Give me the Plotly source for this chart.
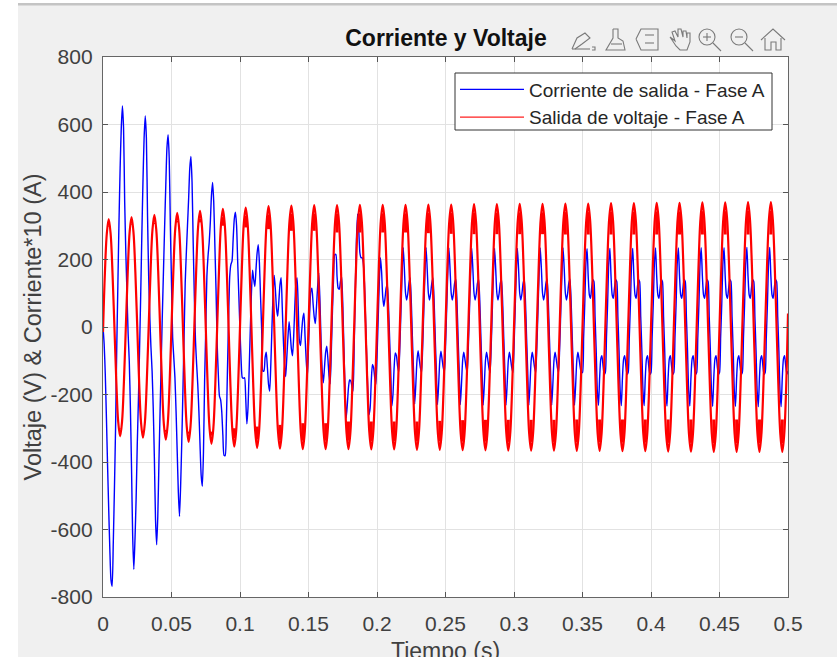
import numpy as np
import plotly.graph_objects as go

# Voltage: 12 readings per 60 Hz cycle
voltage = [
 -15,160,277,320,277,160,0,-162,-281,-324,-281,-162,
 0,163,282,326,282,163,0,-164,-284,-328,-284,-164,
 0,166,288,332,288,166,0,-167,-289,-334,-289,-167,
 0,169,293,338,293,169,0,-170,-294,-340,-294,-170,
 0,172,298,344,298,172,0,-173,-300,-346,-300,-173,
 0,175,303,350,303,175,0,-177,-307,-354,-307,-177,
 0,177,307,354,307,177,0,-179,-310,-358,-310,-179,
 0,179,310,358,310,179,0,-180,-312,-360,-312,-180,
 0,180,312,360,312,180,0,-181,-314,-362,-314,-181,
 0,180,313,361,313,180,0,-181,-314,-362,-314,-181,
 0,180,313,361,313,180,0,-181,-314,-362,-314,-181,
 0,181,314,362,314,181,0,-182,-314,-363,-314,-182,
 0,181,314,362,314,181,0,-182,-314,-363,-314,-182,
 0,181,314,362,314,181,0,-182,-315,-364,-315,-182,
 0,182,314,363,314,182,0,-182,-315,-364,-315,-182,
 0,182,314,363,314,182,0,-183,-316,-365,-316,-183,
 0,182,315,364,315,182,0,-183,-316,-365,-316,-183,
 0,182,315,364,315,182,0,-183,-317,-366,-317,-183,
 0,183,316,365,316,183,0,-183,-317,-366,-317,-183,
 0,183,316,365,316,183,0,-183,-317,-366,-317,-183,
 0,183,317,366,317,183,0,-184,-318,-367,-318,-184,
 0,183,317,366,317,183,0,-184,-318,-367,-318,-184,
 0,184,318,367,318,184,0,-184,-319,-368,-319,-184,
 0,184,318,367,318,184,0,-184,-319,-368,-319,-184,
 0,184,319,368,319,184,0,-185,-320,-369,-320,-185,
 0,184,319,368,319,184,0,-185,-320,-369,-320,-185,
 0,185,320,369,320,185,0,-185,-320,-370,-320,-185,
 0,185,320,369,320,185,0,-185,-320,-370,-320,-185,
 0,185,320,370,320,185,0,-185,-320,-370,-320,-185,
 0,185,320,370,320,185,0,-185,-320,-370,-320,-185,
 40,
]

# Current*10: 20 readings per 60 Hz cycle
current = [
 0,-50,-140,-270,-410,-540,-660,-750,-768,-640,-480,-300,-70,120,310,470,590,655,590,370,
 220,100,-20,-100,-240,-420,-620,-718,-630,-510,-350,-220,-70,90,270,430,560,625,560,330,
 150,30,-60,-130,-240,-390,-570,-645,-560,-400,-250,-100,40,170,300,420,530,570,500,300,
 130,-30,-90,-150,-250,-370,-490,-561,-470,-340,-190,-30,130,220,300,380,470,505,430,250,
 90,-40,-110,-170,-250,-350,-440,-472,-370,-160,-10,150,210,250,310,390,428,370,240,110,
 -50,-140,-205,-215,-250,-320,-380,-381,-290,-130,20,150,185,195,260,320,340,300,190,90,
 -10,-100,-150,-152,-150,-210,-287,-240,-130,-10,100,168,140,120,170,220,244,190,90,-10,
 -130,-130,-90,-75,-120,-170,-190,-110,0,100,153,110,55,32,75,125,146,60,-40,-110,
 -147,-90,-30,16,-20,-65,-85,-30,60,130,145,60,-40,-55,-15,25,41,-30,-100,-147,
 -60,40,105,115,70,30,10,60,120,160,80,-40,-130,-165,-120,-75,-57,-95,-145,-168,
 -70,50,150,215,215,150,115,112,135,150,70,-60,-180,-270,-230,-180,-157,-160,-175,-190,
 -60,110,260,335,290,220,205,205,190,130,20,-90,-190,-260,-240,-160,-111,-120,-150,-170,
 -90,20,130,205,165,90,61,85,115,126,70,-30,-130,-235,-200,-120,-77,-85,-115,-133,
 -60,50,160,235,170,100,80,100,130,145,80,-30,-130,-228,-170,-100,-70,-95,-120,-135,
 -60,50,160,235,170,100,80,100,130,145,80,-30,-130,-230,-170,-100,-72,-95,-120,-135,
 -60,50,160,234,170,100,80,100,130,142,80,-30,-130,-230,-170,-100,-75,-95,-120,-136,
 -60,50,160,233,170,100,80,100,130,142,80,-30,-130,-231,-170,-100,-75,-95,-120,-135,
 -60,50,160,233,170,100,80,100,130,142,80,-30,-130,-231,-170,-100,-75,-95,-120,-135,
 -60,50,160,233,172,100,80,100,130,142,80,-30,-130,-232,-172,-100,-75,-95,-120,-135,
 -60,50,160,234,172,100,80,100,130,142,80,-30,-130,-232,-172,-100,-75,-95,-120,-135,
 -60,50,160,234,172,100,80,100,130,142,80,-30,-130,-232,-172,-100,-75,-95,-120,-135,
 -135,-30,70,190,232,150,95,85,115,140,135,30,-70,-190,-232,-150,-95,-85,-115,-140,
 -135,-30,70,190,233,150,95,85,115,140,135,30,-70,-190,-233,-150,-95,-85,-115,-140,
 -135,-30,70,190,233,150,95,85,115,140,135,30,-70,-190,-233,-150,-95,-85,-115,-140,
 -135,-30,70,190,234,150,95,85,115,140,135,30,-70,-190,-234,-150,-95,-85,-115,-140,
 -135,-30,70,190,234,150,95,85,115,140,135,30,-70,-190,-234,-150,-95,-85,-115,-140,
 -135,-30,70,190,235,150,95,85,115,140,135,30,-70,-190,-235,-150,-95,-85,-115,-140,
 -135,-30,70,190,235,150,95,85,115,140,135,30,-70,-190,-235,-150,-95,-85,-115,-140,
 -135,-30,70,190,236,150,95,85,115,140,135,30,-70,-190,-236,-150,-95,-85,-115,-140,
 -135,-30,70,190,236,150,95,85,115,140,135,30,-70,-190,-236,-150,-95,-85,-115,-140,
 -130,
]

# Where the voltage's ripple fills the crest solid, per half cycle (lower bound as |V|)
ripple_start = [
 300, 305, 305, 310, 310, 300, 295, 290, 285, 285, 280, 280, 280, 280, 278,
 276, 275, 275, 275, 275, 274, 274, 274, 274, 274, 274, 274, 274, 274, 274,
]

x_ticks = [0, 0.05, 0.1, 0.15, 0.2, 0.25, 0.3, 0.35, 0.4, 0.45, 0.5]
x_labels = ["0", "0.05", "0.1", "0.15", "0.2", "0.25", "0.3", "0.35", "0.4", "0.45", "0.5"]
y_ticks = [-800, -600, -400, -200, 0, 200, 400, 600, 800]
y_labels = ["-800", "-600", "-400", "-200", "0", "200", "400", "600", "800"]
NAME_I = "Corriente de salida - Fase A"
NAME_V = "Salida de voltaje - Fase A"

W, H = 837, 657
L, R, T, B = 103, 788, 57, 597
FONT = "Liberation Sans"
t_voltage = np.arange(len(voltage)) / 720
t_current = np.arange(len(current)) / 1200

# Crest bands: from the ripple start up to just under each crest of the voltage list
band_x, band_y = [], []
for c, low in enumerate(ripple_start):
    for i, sign in ((12 * c + 3, 1), (12 * c + 9, -1)):
        band_x += [t_voltage[i], t_voltage[i], None]
        band_y += [sign * low, 0.93 * voltage[i], None]

fig = go.Figure()
fig.add_trace(go.Scatter(x=t_current, y=current, mode="lines", name=NAME_I,
                         line=dict(color="#0000ff", width=1.4, shape="spline", smoothing=0.6)))
fig.add_trace(go.Scatter(x=t_voltage, y=voltage, mode="lines", name=NAME_V, showlegend=False,
                         line=dict(color="#ff0000", width=2.2, shape="spline", smoothing=1.0)))
fig.add_trace(go.Scatter(x=band_x, y=band_y, mode="lines", name=NAME_V, showlegend=False, hoverinfo="skip",
                         line=dict(color="#ff0000", width=3.0)))
# Legend key for the voltage: thin, as the reference's legend shows it
fig.add_trace(go.Scatter(x=[None], y=[None], mode="lines", name=NAME_V,
                         line=dict(color="#ff2020", width=1.2)))

def px(x, y):
    return (x - L) / (R - L), 1 - (y - T) / (B - T)

def path(points):
    s = ""
    for i, (x, y) in enumerate(points):
        a, b = px(x, y)
        s += ("M" if i == 0 else "L") + f"{a:.5f},{b:.5f} "
    return s

def rect(x0, y0, x1, y1, fill, layer="below", line=None):
    a0, b0 = px(x0, y1)
    a1, b1 = px(x1, y0)
    return dict(type="rect", xref="paper", yref="paper", x0=a0, x1=a1, y0=b0, y1=b1, fillcolor=fill,
                line=line or dict(width=0), layer=layer)

ICON = dict(color="#7a7a7a", width=1.1)
shapes = [
    rect(0, 0, 18, H, "#ffffff"),
    rect(0, 0, W, 3, "#ffffff"),
    rect(18, 3, W, 5.5, "#c4c4c4"),
    rect(455, 73, 772, 130, "#ffffff", layer="above", line=dict(color="#333333", width=1)),
]
icon_paths = [
    [(572, 49), (590, 49)],
    [(572, 49), (577, 38), (585, 33), (590, 38), (582, 44), (575, 49)],
    [(592, 47), (595, 47), (595, 50), (592, 50)],
    [(613, 29), (618, 29), (618, 38), (623, 41), (625, 50), (606, 50), (613, 38), (613, 29)],
    [(611, 44), (622, 44)],
    [(636, 39), (641, 29), (658, 29), (658, 50), (641, 50), (636, 39)],
    [(645, 35), (654, 35)],
    [(645, 43), (654, 43)],
    [(670, 37), (676, 46), (680, 50), (687, 50), (690, 42), (690, 33), (687, 33), (687, 38), (686, 31),
     (683, 31), (683, 37), (681, 29), (678, 29), (678, 37), (675, 31), (672, 32), (675, 41), (670, 37)],
    [(713, 43), (721, 51)], [(703, 37), (711, 37)], [(707, 33), (707, 41)],
    [(745, 43), (753, 51)], [(735, 37), (743, 37)],
    [(761, 40), (773, 29), (785, 40)],
    [(765, 38), (765, 50), (771, 50), (771, 42), (776, 42), (776, 50), (781, 50), (781, 38)],
]
for pts in icon_paths:
    shapes.append(dict(type="path", xref="paper", yref="paper", path=path(pts), line=ICON))
for cx in (707, 739):
    a0, b0 = px(cx - 8, 45)
    a1, b1 = px(cx + 8, 29)
    shapes.append(dict(type="circle", xref="paper", yref="paper", x0=a0, x1=a1, y0=b0, y1=b1, line=ICON))

axis = dict(showline=True, mirror="ticks", linecolor="#666666", linewidth=1.3, ticks="inside",
            ticklen=5, tickwidth=1, tickcolor="#555555", showgrid=True, gridcolor="#e2e2e2", gridwidth=1,
            zeroline=False, tickfont=dict(family=FONT, size=21, color="#404040"))

xt_x, xt_y = px((L + R) / 2, 651)

fig.update_layout(
    width=W, height=H, margin=dict(l=L, r=W - R, t=T, b=H - B, autoexpand=False),
    paper_bgcolor="#f0f0f0", plot_bgcolor="#ffffff",
    title=dict(text="<b>Corriente y Voltaje</b>", x=446 / W, xanchor="center", y=1 - 38 / H, yanchor="middle",
               font=dict(family=FONT, size=23, color="#111111")),
    xaxis=dict(axis, range=[0, 0.5], tickmode="array", tickvals=x_ticks, ticktext=x_labels, ticklabelstandoff=8),
    yaxis=dict(axis, range=[-800, 800], tickmode="array", tickvals=y_ticks, ticktext=y_labels, ticklabelstandoff=5,
               title=dict(text="Voltaje (V) &amp; Corriente*10 (A)", standoff=2,
                          font=dict(family=FONT, size=23.5, color="#404040"))),
    annotations=[dict(text="Tiempo (s)", xref="paper", yref="paper", x=xt_x, y=xt_y, xanchor="center",
                      yanchor="middle", showarrow=False, font=dict(family=FONT, size=23, color="#404040"))],
    legend=dict(x=(455 - L) / (R - L), y=1 - (70.5 - T) / (B - T), xanchor="left", yanchor="top",
                bgcolor="rgba(0,0,0,0)", borderwidth=0, itemwidth=64,
                font=dict(family=FONT, size=19, color="#262626"), tracegroupgap=0),
    shapes=shapes, showlegend=True,
)

fig.write_html("out.html", config=dict(displayModeBar=False),
               post_script="document.body.style.margin='0';document.documentElement.style.overflow='hidden';")
